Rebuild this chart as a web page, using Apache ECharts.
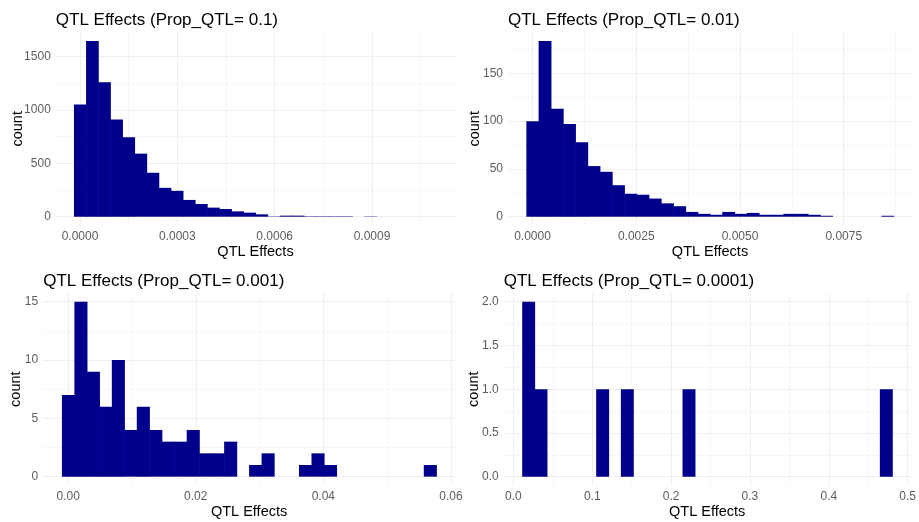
<!DOCTYPE html>
<html>
<head>
<meta charset="utf-8">
<script src="https://cdn.jsdelivr.net/npm/echarts@6/dist/echarts.min.js"></script>
<style>
  html, body { margin: 0; padding: 0; background: #ffffff; }
  #chart { width: 919px; height: 522px; }
</style>
</head>
<body>
<div id="chart"></div>
<script>
// ---- Data ----
const panelTitles = [
  'QTL Effects (Prop_QTL= 0.1)',
  'QTL Effects (Prop_QTL= 0.01)',
  'QTL Effects (Prop_QTL= 0.001)',
  'QTL Effects (Prop_QTL= 0.0001)'
];
const xAxisTitle = 'QTL Effects';
const yAxisTitle = 'count';

// histogram bins: centre of first bin and bin width, then counts per bin
const firstBin1 = 0;      const binWidth1 = 0.0000373;
const counts1 = [1050, 1645, 1258, 910, 744, 590, 411, 270, 242, 157, 119, 85, 72, 50, 38, 22, 3, 10, 10, 4, 4, 4, 4, 0, 3, 0, 0, 0, 0, 0];

const firstBin2 = 0;      const binWidth2 = 0.000295;
const counts2 = [100, 184, 113, 97, 78, 53, 47, 33, 24, 23, 19, 14, 11, 5, 3, 2, 5, 3, 4, 2, 2, 3, 3, 2, 1, 0, 0, 0, 0, 1];

const firstBin3 = 0;      const binWidth3 = 0.001956;
const counts3 = [7, 15, 9, 6, 10, 4, 6, 4, 3, 3, 4, 2, 2, 3, 0, 1, 2, 0, 0, 1, 2, 1, 0, 0, 0, 0, 0, 0, 0, 1];

const firstBin4 = 0.019;  const binWidth4 = 0.01564;
const counts4 = [2, 1, 0, 0, 0, 0, 1, 0, 1, 0, 0, 0, 0, 1, 0, 0, 0, 0, 0, 0, 0, 0, 0, 0, 0, 0, 0, 0, 0, 1];

// tick labels
const xTicks1 = [0, 0.0003, 0.0006, 0.0009];
const xMinor1 = [0.00015, 0.00045, 0.00075, 0.00105];
const yTicks1 = [0, 500, 1000, 1500];
const yMinor1 = [250, 750, 1250];

const xTicks2 = [0, 0.0025, 0.005, 0.0075];
const xMinor2 = [0.00125, 0.00375, 0.00625, 0.00875];
const yTicks2 = [0, 50, 100, 150];
const yMinor2 = [25, 75, 125, 175];

const xTicks3 = [0, 0.02, 0.04, 0.06];
const xMinor3 = [0.01, 0.03, 0.05];
const yTicks3 = [0, 5, 10, 15];
const yMinor3 = [2.5, 7.5, 12.5];

const xTicks4 = [0, 0.1, 0.2, 0.3, 0.4, 0.5];
const xMinor4 = [0.05, 0.15, 0.25, 0.35, 0.45];
const yTicks4 = [0, 0.5, 1, 1.5, 2];
const yMinor4 = [0.25, 0.75, 1.25, 1.75];

// ---- Layout / style ----
const FONT = "'Liberation Sans', Arial, sans-serif";
const FILL = '#00008B';
const MAJOR = '#efefef';
const MINOR = '#f6f6f6';
const LABEL = '#5c5c5c';

const panels = [
  { title: panelTitles[0], first: firstBin1, w: binWidth1, counts: counts1, xt: xTicks1, xm: xMinor1, yt: yTicks1, ym: yMinor1, xDec: 4, yDec: 0,
    grid: { left: 55.8, top: 32.1, width: 399.4, height: 193.4 }, nameGapY: 30.5 },
  { title: panelTitles[1], first: firstBin2, w: binWidth2, counts: counts2, xt: xTicks2, xm: xMinor2, yt: yTicks2, ym: yMinor2, xDec: 4, yDec: 0,
    grid: { left: 508, top: 32.1, width: 404, height: 193.4 }, nameGapY: 25.5 },
  { title: panelTitles[2], first: firstBin3, w: binWidth3, counts: counts3, xt: xTicks3, xm: xMinor3, yt: yTicks3, ym: yMinor3, xDec: 2, yDec: 0,
    grid: { left: 43.2, top: 293, width: 411.8, height: 192.4 }, nameGapY: 19.5 },
  { title: panelTitles[3], first: firstBin4, w: binWidth4, counts: counts4, xt: xTicks4, xm: xMinor4, yt: yTicks4, ym: yMinor4, xDec: 1, yDec: 1,
    grid: { left: 503.7, top: 293, width: 408.3, height: 192.4 }, nameGapY: 22 }
];

const option = {
  animation: false,
  backgroundColor: '#ffffff',
  textStyle: { fontFamily: FONT },
  title: [], grid: [], xAxis: [], yAxis: [], series: []
};

panels.forEach((p, i) => {
  const n = p.counts.length;
  const xMin = p.first - 2 * p.w;
  const xMax = p.first + (n + 1) * p.w;
  const cMax = Math.max.apply(null, p.counts);
  const yMin = -0.05 * cMax;
  const yMax = 1.05 * cMax;

  option.title.push({
    text: p.title,
    left: p.grid.left,
    top: p.grid.top - 20,
    padding: 0,
    textStyle: { fontFamily: FONT, fontSize: 17, fontWeight: 'normal', color: '#000000' }
  });
  option.grid.push(Object.assign({ containLabel: false }, p.grid));

  // main x axis
  option.xAxis.push({
    type: 'value', gridIndex: i, min: xMin, max: xMax, position: 'bottom',
    name: xAxisTitle, nameLocation: 'middle', nameGap: 19, nameMoveOverlap: false,
    nameTextStyle: { fontFamily: FONT, fontSize: 14.5, color: '#000000' },
    axisLine: { show: false },
    axisTick: { show: false, customValues: p.xt },
    axisLabel: { customValues: p.xt, margin: 5, fontFamily: FONT, fontSize: 12, color: LABEL,
      formatter: v => Number(v).toFixed(p.xDec) },
    splitLine: { show: true, lineStyle: { color: MAJOR, width: 1 } },
    z: 2
  });
  // minor x grid
  option.xAxis.push({
    type: 'value', gridIndex: i, min: xMin, max: xMax, position: 'bottom',
    axisLine: { show: false },
    axisTick: { show: false, customValues: p.xm },
    axisLabel: { show: false, customValues: p.xm },
    splitLine: { show: true, lineStyle: { color: MINOR, width: 1 } },
    z: 1
  });
  // main y axis
  option.yAxis.push({
    type: 'value', gridIndex: i, min: yMin, max: yMax, position: 'left',
    name: yAxisTitle, nameLocation: 'middle', nameGap: p.nameGapY, nameMoveOverlap: false,
    nameTextStyle: { fontFamily: FONT, fontSize: 14.5, color: '#000000' },
    axisLine: { show: false },
    axisTick: { show: false, customValues: p.yt },
    axisLabel: { customValues: p.yt, margin: 5, fontFamily: FONT, fontSize: 12, color: LABEL,
      formatter: v => Number(v).toFixed(p.yDec) },
    splitLine: { show: true, lineStyle: { color: MAJOR, width: 1 } },
    z: 2
  });
  // minor y grid
  option.yAxis.push({
    type: 'value', gridIndex: i, min: yMin, max: yMax, position: 'left',
    axisLine: { show: false },
    axisTick: { show: false, customValues: p.ym },
    axisLabel: { show: false, customValues: p.ym },
    splitLine: { show: true, lineStyle: { color: MINOR, width: 1 } },
    z: 1
  });

  const data = p.counts.map((c, k) => {
    const centre = p.first + k * p.w;
    return [centre - p.w / 2, centre + p.w / 2, c];
  });

  option.series.push({
    type: 'custom',
    xAxisIndex: 2 * i,
    yAxisIndex: 2 * i,
    encode: { x: [0, 1], y: 2 },
    data: data,
    z: 5,
    renderItem: (params, api) => {
      const c = api.value(2);
      if (!c) return null;
      const p0 = api.coord([api.value(0), c]);
      const p1 = api.coord([api.value(1), 0]);
      return {
        type: 'rect',
        shape: { x: p0[0], y: p0[1], width: p1[0] - p0[0] + 0.6, height: p1[1] - p0[1] },
        style: { fill: FILL }
      };
    }
  });
});

const chart = echarts.init(document.getElementById('chart'), null, { renderer: 'canvas' });
chart.setOption(option);
</script>
</body>
</html>
